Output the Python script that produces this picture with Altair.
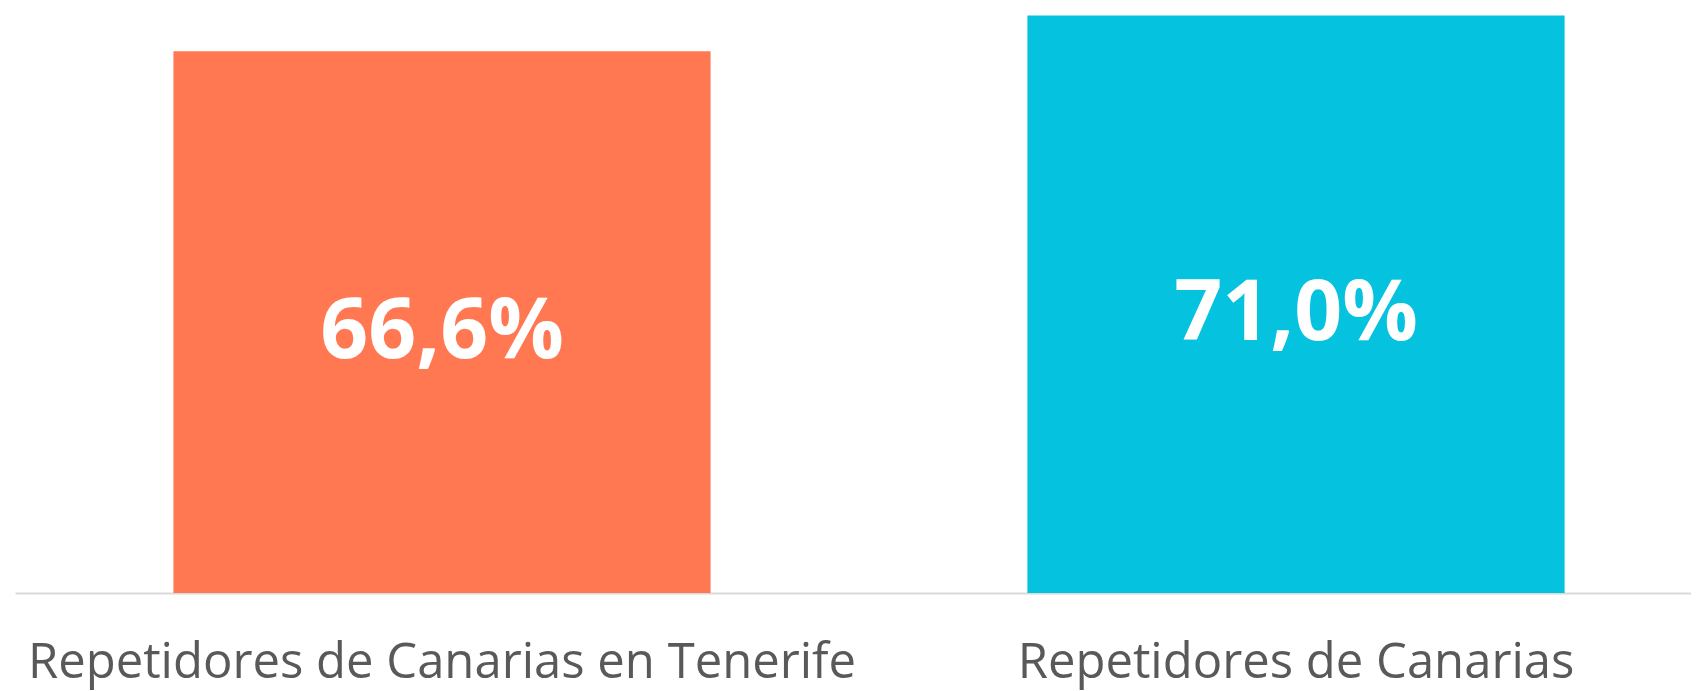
import altair as alt
import pandas as pd

categories = ["Repetidores de Canarias en Tenerife", "Repetidores de Canarias"]
values = [66.6, 71.0]
value_labels = ["66,6%", "71,0%"]
colors = ["#FF7852", "#05C2DE"]

df = pd.DataFrame({"cat": categories, "val": values, "lab": value_labels, "col": colors})

x = alt.X(
    "cat:N",
    sort=categories,
    title=None,
    scale=alt.Scale(range=[7, 1715], paddingInner=0.371, paddingOuter=0.1855),
    axis=alt.Axis(
        labelAngle=0,
        labelFont="Open Sans",
        labelFontSize=49,
        labelColor="#595959",
        labelBaseline="alphabetic",
        labelPadding=84,
        ticks=False,
        tickSize=0,
        domainColor="#D9D9D9",
        domainWidth=2,
        labelLimit=0,
        labelOverlap=False,
        labelFlush=False,
        grid=False,
    ),
)

yscale = alt.Scale(domain=[0, 71.91], nice=False, zero=True)

bars = alt.Chart(df).mark_bar().encode(
    x=x,
    y=alt.Y("val:Q", scale=yscale, axis=None),
    color=alt.Color("col:N", scale=None),
)

text = alt.Chart(df).transform_calculate(mid="datum.val / 2").mark_text(
    font="Open Sans",
    fontWeight="bold",
    fontSize=84,
    color="white",
    baseline="alphabetic",
    align="center",
    dy=36,
).encode(
    x=x,
    y=alt.Y("mid:Q", scale=yscale, axis=None),
    text="lab:N",
)

chart = alt.layer(bars, text).properties(
    width=1683,
    height=585,
    autosize=alt.AutoSizeParams(type="none"),
    padding={"left": 0, "top": 0, "right": 0, "bottom": 98},
).configure_view(stroke=None)

chart.save("out.html", embed_options={"renderer": "svg", "actions": False})
